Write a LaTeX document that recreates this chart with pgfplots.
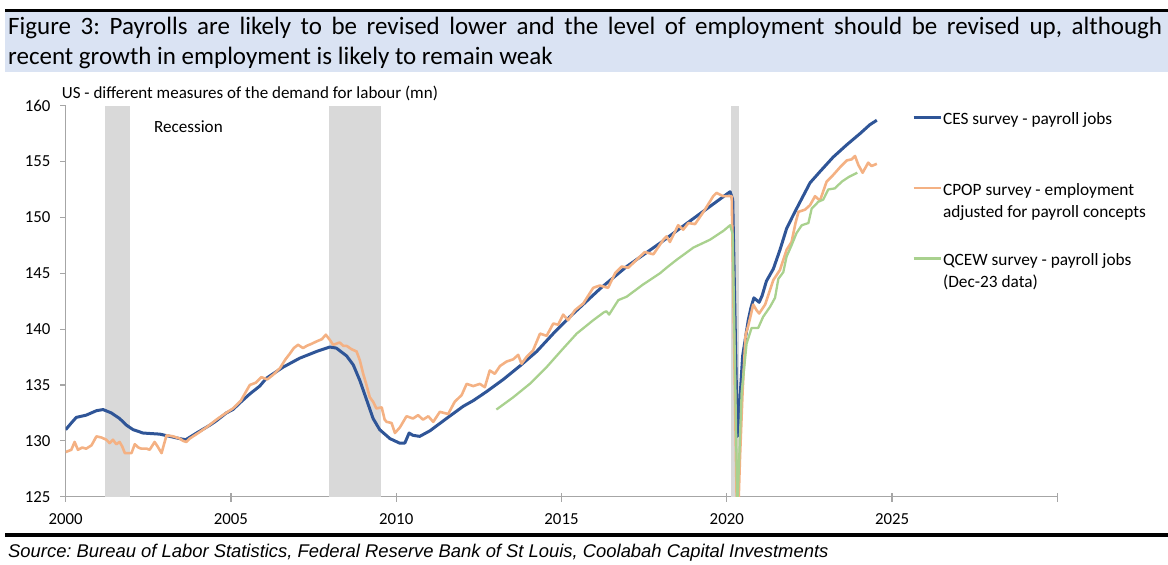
\documentclass[border=0pt]{standalone}
\usepackage{pgfplots}
\pgfplotsset{compat=1.18}
\usepackage{pgfplotstable}
\usepackage{fontspec}
\setmainfont{Carlito}
\newfontfamily\srcfont{Liberation Sans}
\frenchspacing

\definecolor{cesblue}{HTML}{2F5597}
\definecolor{cpoporange}{HTML}{F4B183}
\definecolor{qcewgreen}{HTML}{A9D18E}
\definecolor{recgray}{HTML}{D9D9D9}
\definecolor{axisgray}{HTML}{A6A6A6}
\definecolor{titleblue}{HTML}{DAE3F3}

% CES survey - payroll jobs (mn)
\pgfplotstableread{
x y
2000.00 131.0
2000.17 131.6
2000.32 132.1
2000.62 132.3
2000.93 132.7
2001.13 132.8
2001.38 132.5
2001.63 132.0
2001.84 131.4
2002.04 131.0
2002.34 130.7
2002.85 130.6
2003.15 130.4
2003.45 130.2
2003.63 130.1
2003.96 130.7
2004.36 131.4
2004.56 131.8
2004.86 132.5
2005.06 132.8
2005.27 133.4
2005.57 134.2
2005.87 134.9
2006.07 135.6
2006.58 136.6
2007.08 137.4
2007.59 138.0
2007.99 138.4
2008.19 138.3
2008.50 137.6
2008.70 136.8
2008.90 135.4
2009.10 133.7
2009.30 132.0
2009.50 131.0
2009.81 130.2
2010.10 129.8
2010.26 129.8
2010.39 130.7
2010.50 130.5
2010.71 130.4
2011.02 130.9
2011.52 132.0
2012.03 133.1
2012.33 133.6
2012.73 134.4
2013.24 135.5
2013.74 136.7
2014.25 138.0
2014.75 139.6
2015.25 141.1
2015.76 142.5
2016.16 143.6
2016.97 145.6
2017.98 147.7
2018.99 149.9
2019.50 151.0
2020.10 152.3
2020.18 151.6
2020.32 130.4
2020.40 133.8
2020.48 137.6
2020.57 139.3
2020.65 140.8
2020.73 141.9
2020.82 142.8
2020.90 142.6
2020.98 142.4
2021.07 143.0
2021.20 144.3
2021.41 145.4
2021.61 147.1
2021.81 149.0
2022.01 150.2
2022.22 151.4
2022.52 153.1
2022.82 154.1
2023.22 155.4
2023.63 156.5
2024.03 157.5
2024.33 158.3
2024.54 158.7
}\ces

% CPOP survey - employment adjusted for payroll concepts (mn)
\pgfplotstableread{
x y
2000.00 129.0
2000.17 129.2
2000.27 129.9
2000.37 129.2
2000.50 129.4
2000.62 129.3
2000.78 129.6
2000.93 130.4
2001.08 130.3
2001.23 130.1
2001.33 129.8
2001.43 130.1
2001.53 129.7
2001.63 129.9
2001.71 129.5
2001.79 128.9
2001.99 128.9
2002.09 129.7
2002.20 129.4
2002.29 129.3
2002.45 129.3
2002.54 129.2
2002.69 129.9
2002.78 129.5
2002.90 128.9
2003.05 130.5
2003.25 130.4
2003.45 130.2
2003.55 130.0
2003.65 129.9
2003.75 130.2
2004.06 130.8
2004.30 131.3
2004.56 131.9
2004.80 132.4
2005.06 132.9
2005.30 133.6
2005.57 135.0
2005.75 135.2
2005.92 135.7
2006.10 135.5
2006.27 135.9
2006.48 136.5
2006.65 137.3
2006.78 137.8
2006.90 138.3
2007.03 138.6
2007.18 138.3
2007.29 138.5
2007.45 138.7
2007.59 138.9
2007.75 139.1
2007.87 139.5
2008.00 139.0
2008.09 138.6
2008.29 138.8
2008.40 138.5
2008.50 138.5
2008.65 138.2
2008.80 138.0
2008.90 137.2
2009.00 136.0
2009.10 135.0
2009.20 133.9
2009.30 133.5
2009.40 132.9
2009.56 133.0
2009.65 131.9
2009.71 131.7
2009.86 131.6
2009.96 130.7
2010.11 131.2
2010.31 132.2
2010.51 132.0
2010.66 132.3
2010.81 131.9
2010.97 132.2
2011.12 131.7
2011.32 132.6
2011.57 132.4
2011.77 133.5
2011.98 134.1
2012.13 135.1
2012.33 134.9
2012.53 135.1
2012.68 134.8
2012.83 136.3
2012.98 136.0
2013.14 136.7
2013.34 137.1
2013.54 137.3
2013.69 137.7
2013.79 136.9
2013.94 137.5
2014.14 138.1
2014.35 139.6
2014.55 139.4
2014.75 140.5
2014.90 140.4
2015.05 141.3
2015.20 140.8
2015.41 141.7
2015.66 142.3
2015.96 143.7
2016.16 143.9
2016.41 143.7
2016.62 145.0
2016.82 145.6
2017.02 145.5
2017.27 146.2
2017.52 146.9
2017.78 146.7
2018.08 148.0
2018.18 148.3
2018.28 147.8
2018.53 149.3
2018.68 148.9
2018.84 149.5
2019.04 149.4
2019.34 150.7
2019.59 151.9
2019.69 152.2
2019.89 151.9
2020.05 151.9
2020.15 151.9
2020.32 121.0
2020.40 128.5
2020.48 134.5
2020.57 139.5
2020.65 140.3
2020.73 141.3
2020.80 142.2
2020.90 141.7
2020.98 141.4
2021.07 141.8
2021.16 142.2
2021.41 144.4
2021.61 145.3
2021.81 147.1
2021.96 147.8
2022.08 149.5
2022.17 150.5
2022.37 150.7
2022.52 151.1
2022.67 151.9
2022.82 151.5
2023.02 153.2
2023.22 153.8
2023.43 154.5
2023.63 155.1
2023.78 155.2
2023.88 155.5
2023.98 154.7
2024.11 154.0
2024.28 154.9
2024.38 154.6
2024.54 154.8
}\cpop

% QCEW survey - payroll jobs, Dec-23 data (mn)
\pgfplotstableread{
x y
2013.03 132.8
2013.54 133.9
2014.04 135.1
2014.55 136.6
2015.00 138.1
2015.46 139.6
2015.96 140.8
2016.28 141.5
2016.36 141.6
2016.44 141.3
2016.72 142.6
2016.97 142.9
2017.47 144.0
2017.98 145.0
2018.18 145.5
2018.48 146.2
2018.99 147.3
2019.49 148.0
2019.90 148.8
2020.10 149.3
2020.18 148.5
2020.32 124.0
2020.45 134.3
2020.60 138.7
2020.75 140.1
2020.95 140.1
2021.10 141.1
2021.31 142.0
2021.46 142.8
2021.56 144.5
2021.71 145.1
2021.81 146.5
2021.96 147.5
2022.11 148.6
2022.27 149.3
2022.47 149.5
2022.57 150.8
2022.77 151.4
2022.92 151.6
2023.07 152.5
2023.27 152.6
2023.48 153.2
2023.68 153.6
2023.95 154.0
}\qcew

\begin{document}
\begin{tikzpicture}
\path[use as bounding box] (0pt,0pt) rectangle (1168pt,-565pt);

% title band and rules
\fill[black] (5pt,-9pt) rectangle (1168pt,-12.3pt);
\fill[titleblue] (5pt,-12.3pt) rectangle (1168pt,-72.3pt);
\fill[black] (5pt,-533.3pt) rectangle (1168pt,-536.7pt);

\node[anchor=base west, inner sep=0pt, font=\fontsize{25}{30}\selectfont] at (8pt,-34.3pt)
  {\makebox[1154pt][s]{Figure 3: Payrolls are likely to be revised lower and the level of employment should be revised up, although}};
\node[anchor=base west, inner sep=0pt, font=\fontsize{25}{30}\selectfont] at (8pt,-64.3pt)
  {recent growth in employment is likely to remain weak};

\node[anchor=base west, inner sep=0pt, font=\fontsize{17}{20}\selectfont] at (61.7pt,-98.3pt)
  {US - different measures of the demand for labour (mn)};

\node[anchor=base west, inner sep=0pt, font=\srcfont\fontsize{18.4}{22}\selectfont\itshape] at (8pt,-557.3pt)
  {Source: Bureau of Labor Statistics, Federal Reserve Bank of St Louis, Coolabah Capital Investments};

\begin{axis}[
  at={(65.7pt,-496.7pt)}, anchor=south west,
  width=991.6pt, height=391pt, scale only axis,
  xmin=2000, xmax=2030, ymin=125, ymax=160,
  axis x line=bottom, axis y line=left,
  axis line style={draw=axisgray, line width=1.2pt, -},
  xtick={2000,2005,...,2030},
  xticklabels={2000,2005,2010,2015,2020,2025,{}},
  ytick={125,130,...,160},
  tick style={draw=axisgray, line width=1.2pt},
  tick align=outside,
  major tick length=5.7pt,
  xtick style={yshift=3.4pt, /pgfplots/major tick length=8.4pt},
  /pgf/number format/assume math mode=true,
  ticklabel style={font=\fontsize{16.8}{20}\selectfont},
  xticklabel style={/pgf/number format/1000 sep={}, yshift=-8pt},
  yticklabel style={xshift=-6pt},
  legend style={draw=none, fill=none, at={(axis cs:2025.6,159.7)}, anchor=north west,
    inner sep=0pt, row sep=53.2pt, column sep=1pt,
    font=\fontsize{17.3}{22.3}\selectfont, nodes={inner sep=0pt}},
  legend cell align=left,
  legend image code/.code={\draw[#1] (0pt,0pt) -- (27pt,0pt);},
  clip=true,
]
% recession bands
\addplot[fill=recgray, draw=none, forget plot] coordinates {(2001.20,125) (2001.20,160) (2001.94,160) (2001.94,125)};
\addplot[fill=recgray, draw=none, forget plot] coordinates {(2007.96,125) (2007.96,160) (2009.53,160) (2009.53,125)};
\addplot[fill=recgray, draw=none, forget plot] coordinates {(2020.13,125) (2020.13,160) (2020.37,160) (2020.37,125)};

\addplot[cesblue, line width=3pt, line join=round] table {\ces};
\addlegendentry{\strut CES survey - payroll jobs}
\addplot[cpoporange, line width=2.6pt, line join=round] table {\cpop};
\addlegendentry{\strut\rlap{\raisebox{-22.3pt}[0pt][0pt]{adjusted for payroll concepts}}CPOP survey - employment}
\addplot[qcewgreen, line width=2.3pt, line join=round] table {\qcew};
\addlegendentry{\strut\rlap{\raisebox{-22.3pt}[0pt][0pt]{(Dec-23 data)}}QCEW survey - payroll jobs}
\end{axis}

\node[anchor=base west, inner sep=0pt, font=\fontsize{17.1}{20}\selectfont] at (154pt,-132pt) {Recession};
\end{tikzpicture}
\end{document}
